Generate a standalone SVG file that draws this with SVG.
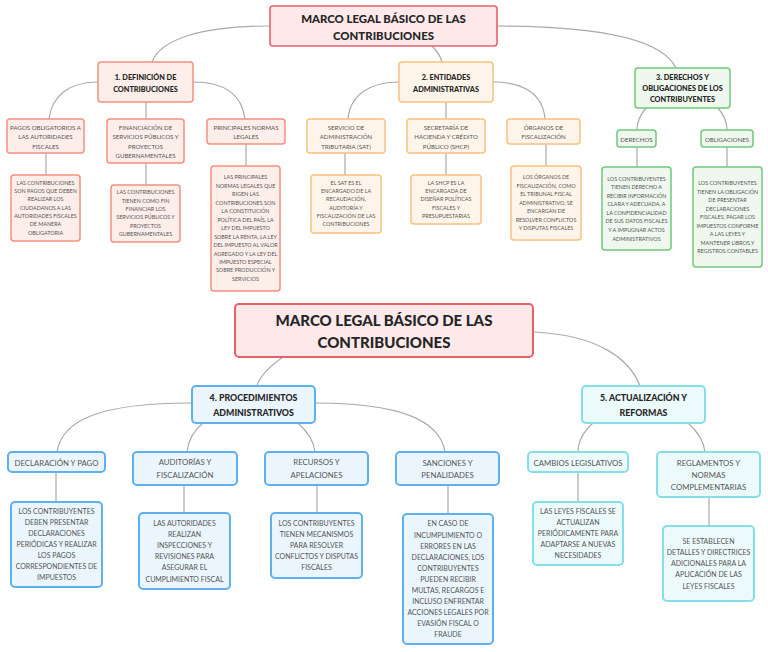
<svg xmlns="http://www.w3.org/2000/svg" width="768" height="652" viewBox="0 0 768 652">
<style>
text{font-family:Lato,"Open Sans","Liberation Sans",sans-serif;text-anchor:middle;dominant-baseline:central}
.h{font-weight:900;fill:#262626}
.t1{font-size:11.4px}
.t2{font-size:15px}
.hs{font-size:7.3px}
.hb{font-size:8.8px}
.c{fill:#555;font-size:6.1px}
.l{fill:#555;font-size:5.4px}
.cb{fill:#555;font-size:7.8px}
.lb{fill:#555;font-size:7px}
.ttl{fill:#fde9e9;stroke:#e6626a;stroke-width:1.6}
.r{fill:#fdeee9;stroke:#f3907e;stroke-width:1.5}
.o{fill:#fef4ea;stroke:#f9c27c;stroke-width:1.5}
.g{fill:#eef8ef;stroke:#72c87c;stroke-width:1.5}
.b{fill:#ebf5fd;stroke:#5fb0ee;stroke-width:2}
.cy{fill:#edfafb;stroke:#84dfe6;stroke-width:2}
#connectors path{fill:none;stroke:#aaaaaa;stroke-width:1.2}
</style>
<rect width="768" height="652" fill="#ffffff"/>
<g id="connectors">
<path d="M270,26 C200,26 160,40 152,62"/>
<path d="M432,46 Q440,54 442,62"/>
<path d="M497,26 C620,26 665,45 676,68"/>
<path d="M98,82 C70,82 52,95 49,119"/>
<path d="M146,102 V119"/>
<path d="M193,82 C225,82 242,95 245,119"/>
<path d="M399,82 C370,82 350,95 348,119"/>
<path d="M446,102 V119"/>
<path d="M493,82 C525,82 543,95 545,119"/>
<path d="M646,108 C640,115 637,122 637,130"/>
<path d="M718,108 C724,115 727,122 727,130"/>
<path d="M46,153 V175"/>
<path d="M146,163 V185"/>
<path d="M246,144 V166"/>
<path d="M345,153 V175"/>
<path d="M446,153 V175"/>
<path d="M546,144 V166"/>
<path d="M637,147 V167"/>
<path d="M727,147 V167"/>
<path d="M283,357 C270,366 260,376 257,386"/>
<path d="M533,332 C600,335 630,360 640,386"/>
<path d="M192,403 C100,403 62,420 57,452"/>
<path d="M203,423 C192,432 188,442 187,452"/>
<path d="M298,423 C308,432 314,442 315,452"/>
<path d="M315,403 C400,403 440,420 445,452"/>
<path d="M593,423 C583,432 578,442 578,452"/>
<path d="M688,423 C698,432 704,442 705,452"/>
<path d="M56,472 V502"/>
<path d="M184,485 V513"/>
<path d="M317,485 V513"/>
<path d="M448,485 V514"/>
<path d="M578,472 V502"/>
<path d="M709,497 V526"/>
</g>

<g id="title-top">
<rect class="ttl" x="270" y="6" width="227" height="40" rx="3"/>
<text class="h t1" x="383.5" y="18">MARCO LEGAL BÁSICO DE LAS</text>
<text class="h t1" x="383.5" y="35">CONTRIBUCIONES</text>
</g>

<g id="n1">
<rect class="r" x="98" y="62" width="95" height="40" rx="3"/>
<text class="h hs" x="145.5" y="77">1. DEFINICIÓN DE</text>
<text class="h hs" x="145.5" y="89">CONTRIBUCIONES</text>
</g>
<g id="n1a">
<rect class="r" x="7" y="119" width="77" height="34" rx="3"/>
<text class="c" x="45.5" y="127">PAGOS OBLIGATORIOS A</text>
<text class="c" x="45.5" y="136">LAS AUTORIDADES</text>
<text class="c" x="45.5" y="146">FISCALES</text>
</g>
<g id="n1b">
<rect class="r" x="107" y="119" width="77" height="44" rx="3"/>
<text class="c" x="145.5" y="127">FINANCIACIÓN DE</text>
<text class="c" x="145.5" y="136">SERVICIOS PÚBLICOS Y</text>
<text class="c" x="145.5" y="146">PROYECTOS</text>
<text class="c" x="145.5" y="155">GUBERNAMENTALES</text>
</g>
<g id="n1c">
<rect class="r" x="207" y="119" width="78" height="25" rx="3"/>
<text class="c" x="246" y="127">PRINCIPALES NORMAS</text>
<text class="c" x="246" y="136">LEGALES</text>
</g>
<g id="n1a-leaf">
<rect class="r" x="11" y="175" width="69" height="66" rx="3"/>
<text class="l" x="45.5" y="183">LAS CONTRIBUCIONES</text>
<text class="l" x="45.5" y="191">SON PAGOS QUE DEBEN</text>
<text class="l" x="45.5" y="199">REALIZAR LOS</text>
<text class="l" x="45.5" y="208">CIUDADANOS A LAS</text>
<text class="l" x="45.5" y="216">AUTORIDADES FISCALES</text>
<text class="l" x="45.5" y="224">DE MANERA</text>
<text class="l" x="45.5" y="233">OBLIGATORIA</text>
</g>
<g id="n1b-leaf">
<rect class="r" x="111" y="185" width="69" height="57" rx="3"/>
<text class="l" x="145.5" y="192">LAS CONTRIBUCIONES</text>
<text class="l" x="145.5" y="201">TIENEN COMO FIN</text>
<text class="l" x="145.5" y="209">FINANCIAR LOS</text>
<text class="l" x="145.5" y="217">SERVICIOS PÚBLICOS Y</text>
<text class="l" x="145.5" y="226">PROYECTOS</text>
<text class="l" x="145.5" y="234">GUBERNAMENTALES</text>
</g>
<g id="n1c-leaf">
<rect class="r" x="211" y="166" width="69" height="125" rx="3"/>
<text class="l" x="245.5" y="177">LAS PRINCIPALES</text>
<text class="l" x="245.5" y="186">NORMAS LEGALES QUE</text>
<text class="l" x="245.5" y="194">RIGEN LAS</text>
<text class="l" x="245.5" y="203">CONTRIBUCIONES SON</text>
<text class="l" x="245.5" y="211">LA CONSTITUCIÓN</text>
<text class="l" x="245.5" y="220">POLÍTICA DEL PAÍS, LA</text>
<text class="l" x="245.5" y="228">LEY DEL IMPUESTO</text>
<text class="l" x="245.5" y="237">SOBRE LA RENTA, LA LEY</text>
<text class="l" x="245.5" y="245">DEL IMPUESTO AL VALOR</text>
<text class="l" x="245.5" y="254">AGREGADO Y LA LEY DEL</text>
<text class="l" x="245.5" y="262">IMPUESTO ESPECIAL</text>
<text class="l" x="245.5" y="270">SOBRE PRODUCCIÓN Y</text>
<text class="l" x="245.5" y="279">SERVICIOS</text>
</g>

<g id="n2">
<rect class="o" x="399" y="62" width="94" height="40" rx="3"/>
<text class="h hs" x="446" y="77">2. ENTIDADES</text>
<text class="h hs" x="446" y="89">ADMINISTRATIVAS</text>
</g>
<g id="n2a">
<rect class="o" x="307" y="119" width="78" height="34" rx="3"/>
<text class="c" x="346" y="127">SERVICIO DE</text>
<text class="c" x="346" y="136">ADMINISTRACIÓN</text>
<text class="c" x="346" y="146">TRIBUTARIA (SAT)</text>
</g>
<g id="n2b">
<rect class="o" x="407" y="119" width="78" height="34" rx="3"/>
<text class="c" x="446" y="127">SECRETARÍA DE</text>
<text class="c" x="446" y="136">HACIENDA Y CRÉDITO</text>
<text class="c" x="446" y="146">PÚBLICO (SHCP)</text>
</g>
<g id="n2c">
<rect class="o" x="507" y="119" width="73" height="25" rx="3"/>
<text class="c" x="543.5" y="127">ÓRGANOS DE</text>
<text class="c" x="543.5" y="136">FISCALIZACIÓN</text>
</g>
<g id="n2a-leaf">
<rect class="o" x="311" y="175" width="70" height="58" rx="3"/>
<text class="l" x="346" y="183">EL SAT ES EL</text>
<text class="l" x="346" y="191">ENCARGADO DE LA</text>
<text class="l" x="346" y="199">RECAUDACIÓN,</text>
<text class="l" x="346" y="208">AUDITORÍA Y</text>
<text class="l" x="346" y="216">FISCALIZACIÓN DE LAS</text>
<text class="l" x="346" y="224">CONTRIBUCIONES</text>
</g>
<g id="n2b-leaf">
<rect class="o" x="411" y="175" width="70" height="49" rx="3"/>
<text class="l" x="446" y="183">LA SHCP ES LA</text>
<text class="l" x="446" y="191">ENCARGADA DE</text>
<text class="l" x="446" y="199">DISEÑAR POLÍTICAS</text>
<text class="l" x="446" y="208">FISCALES Y</text>
<text class="l" x="446" y="216">PRESUPUESTARIAS</text>
</g>
<g id="n2c-leaf">
<rect class="o" x="511" y="166" width="70" height="74" rx="3"/>
<text class="l" x="546" y="177">LOS ÓRGANOS DE</text>
<text class="l" x="546" y="186">FISCALIZACIÓN, COMO</text>
<text class="l" x="546" y="194">EL TRIBUNAL FISCAL</text>
<text class="l" x="546" y="203">ADMINISTRATIVO, SE</text>
<text class="l" x="546" y="211">ENCARGAN DE</text>
<text class="l" x="546" y="220">RESOLVER CONFLICTOS</text>
<text class="l" x="546" y="228">Y DISPUTAS FISCALES</text>
</g>

<g id="n3">
<rect class="g" x="635" y="68" width="95" height="40" rx="3"/>
<text class="h hs" x="682.5" y="77">3. DERECHOS Y</text>
<text class="h hs" x="682.5" y="88">OBLIGACIONES DE LOS</text>
<text class="h hs" x="682.5" y="99">CONTRIBUYENTES</text>
</g>
<g id="n3a">
<rect class="g" x="617" y="130" width="39" height="17" rx="3"/>
<text class="c" x="636.5" y="139">DERECHOS</text>
</g>
<g id="n3b">
<rect class="g" x="701" y="130" width="52" height="17" rx="3"/>
<text class="c" x="727" y="139">OBLIGACIONES</text>
</g>
<g id="n3a-leaf">
<rect class="g" x="602" y="167" width="69" height="83" rx="3"/>
<text class="l" x="636.5" y="179">LOS CONTRIBUYENTES</text>
<text class="l" x="636.5" y="187">TIENEN DERECHO A</text>
<text class="l" x="636.5" y="196">RECIBIR INFORMACIÓN</text>
<text class="l" x="636.5" y="204">CLARA Y ADECUADA, A</text>
<text class="l" x="636.5" y="213">LA CONFIDENCIALIDAD</text>
<text class="l" x="636.5" y="221">DE SUS DATOS FISCALES</text>
<text class="l" x="636.5" y="230">Y A IMPUGNAR ACTOS</text>
<text class="l" x="636.5" y="239">ADMINISTRATIVOS</text>
</g>
<g id="n3b-leaf">
<rect class="g" x="693" y="167" width="69" height="100" rx="3"/>
<text class="l" x="727.5" y="183">LOS CONTRIBUYENTES</text>
<text class="l" x="727.5" y="192">TIENEN LA OBLIGACIÓN</text>
<text class="l" x="727.5" y="200">DE PRESENTAR</text>
<text class="l" x="727.5" y="209">DECLARACIONES</text>
<text class="l" x="727.5" y="217">FISCALES, PAGAR LOS</text>
<text class="l" x="727.5" y="226">IMPUESTOS CONFORME</text>
<text class="l" x="727.5" y="234">A LAS LEYES Y</text>
<text class="l" x="727.5" y="243">MANTENER LIBROS Y</text>
<text class="l" x="727.5" y="251">REGISTROS CONTABLES</text>
</g>

<g id="title-bottom">
<rect class="ttl" x="235" y="304" width="298" height="53" rx="4" style="stroke-width:2"/>
<text class="h t2" x="384" y="320">MARCO LEGAL BÁSICO DE LAS</text>
<text class="h t2" x="384" y="342">CONTRIBUCIONES</text>
</g>

<g id="n4">
<rect class="b" x="192" y="386" width="123" height="37" rx="4"/>
<text class="h hb" x="253.5" y="397">4. PROCEDIMIENTOS</text>
<text class="h hb" x="253.5" y="412">ADMINISTRATIVOS</text>
</g>
<g id="n4a">
<rect class="b" x="8" y="452" width="97" height="20" rx="4"/>
<text class="cb" x="56.5" y="463">DECLARACIÓN Y PAGO</text>
</g>
<g id="n4b">
<rect class="b" x="133" y="452" width="104" height="33" rx="4"/>
<text class="cb" x="185" y="462">AUDITORÍAS Y</text>
<text class="cb" x="185" y="475">FISCALIZACIÓN</text>
</g>
<g id="n4c">
<rect class="b" x="265" y="452" width="103" height="33" rx="4"/>
<text class="cb" x="316.5" y="462">RECURSOS Y</text>
<text class="cb" x="316.5" y="475">APELACIONES</text>
</g>
<g id="n4d">
<rect class="b" x="396" y="452" width="103" height="33" rx="4"/>
<text class="cb" x="447.5" y="463">SANCIONES Y</text>
<text class="cb" x="447.5" y="475">PENALIDADES</text>
</g>
<g id="n4a-leaf">
<rect class="b" x="11" y="502" width="91" height="85" rx="4"/>
<text class="lb" x="56.5" y="511">LOS CONTRIBUYENTES</text>
<text class="lb" x="56.5" y="522">DEBEN PRESENTAR</text>
<text class="lb" x="56.5" y="533">DECLARACIONES</text>
<text class="lb" x="56.5" y="544">PERIÓDICAS Y REALIZAR</text>
<text class="lb" x="56.5" y="555">LOS PAGOS</text>
<text class="lb" x="56.5" y="566">CORRESPONDIENTES DE</text>
<text class="lb" x="56.5" y="577">IMPUESTOS</text>
</g>
<g id="n4b-leaf">
<rect class="b" x="139" y="513" width="91" height="76" rx="4"/>
<text class="lb" x="184.5" y="523">LAS AUTORIDADES</text>
<text class="lb" x="184.5" y="534">REALIZAN</text>
<text class="lb" x="184.5" y="545">INSPECCIONES Y</text>
<text class="lb" x="184.5" y="556">REVISIONES PARA</text>
<text class="lb" x="184.5" y="567">ASEGURAR EL</text>
<text class="lb" x="184.5" y="579">CUMPLIMIENTO FISCAL</text>
</g>
<g id="n4c-leaf">
<rect class="b" x="271" y="513" width="91" height="65" rx="4"/>
<text class="lb" x="316.5" y="523">LOS CONTRIBUYENTES</text>
<text class="lb" x="316.5" y="534">TIENEN MECANISMOS</text>
<text class="lb" x="316.5" y="545">PARA RESOLVER</text>
<text class="lb" x="316.5" y="556">CONFLICTOS Y DISPUTAS</text>
<text class="lb" x="316.5" y="567">FISCALES</text>
</g>
<g id="n4d-leaf">
<rect class="b" x="403" y="514" width="90" height="130" rx="4"/>
<text class="lb" x="448" y="523">EN CASO DE</text>
<text class="lb" x="448" y="535">INCUMPLIMIENTO O</text>
<text class="lb" x="448" y="546">ERRORES EN LAS</text>
<text class="lb" x="448" y="557">DECLARACIONES, LOS</text>
<text class="lb" x="448" y="568">CONTRIBUYENTES</text>
<text class="lb" x="448" y="579">PUEDEN RECIBIR</text>
<text class="lb" x="448" y="590">MULTAS, RECARGOS E</text>
<text class="lb" x="448" y="601">INCLUSO ENFRENTAR</text>
<text class="lb" x="448" y="612">ACCIONES LEGALES POR</text>
<text class="lb" x="448" y="623">EVASIÓN FISCAL O</text>
<text class="lb" x="448" y="634">FRAUDE</text>
</g>

<g id="n5">
<rect class="cy" x="582" y="386" width="123" height="37" rx="4"/>
<text class="h hb" x="643.5" y="397">5. ACTUALIZACIÓN Y</text>
<text class="h hb" x="643.5" y="412">REFORMAS</text>
</g>
<g id="n5a">
<rect class="cy" x="528" y="452" width="100" height="20" rx="4"/>
<text class="cb" x="578" y="463">CAMBIOS LEGISLATIVOS</text>
</g>
<g id="n5b">
<rect class="cy" x="657" y="452" width="103" height="45" rx="4"/>
<text class="cb" x="708.5" y="463">REGLAMENTOS Y</text>
<text class="cb" x="708.5" y="475">NORMAS</text>
<text class="cb" x="708.5" y="487">COMPLEMENTARIAS</text>
</g>
<g id="n5a-leaf">
<rect class="cy" x="533" y="502" width="90" height="63" rx="4"/>
<text class="lb" x="578" y="511">LAS LEYES FISCALES SE</text>
<text class="lb" x="578" y="522">ACTUALIZAN</text>
<text class="lb" x="578" y="533">PERIÓDICAMENTE PARA</text>
<text class="lb" x="578" y="544">ADAPTARSE A NUEVAS</text>
<text class="lb" x="578" y="555">NECESIDADES</text>
</g>
<g id="n5b-leaf">
<rect class="cy" x="663" y="526" width="91" height="75" rx="4"/>
<text class="lb" x="708.5" y="541">SE ESTABLECEN</text>
<text class="lb" x="708.5" y="552">DETALLES Y DIRECTRICES</text>
<text class="lb" x="708.5" y="563">ADICIONALES PARA LA</text>
<text class="lb" x="708.5" y="574">APLICACIÓN DE LAS</text>
<text class="lb" x="708.5" y="586">LEYES FISCALES</text>
</g>
</svg>
